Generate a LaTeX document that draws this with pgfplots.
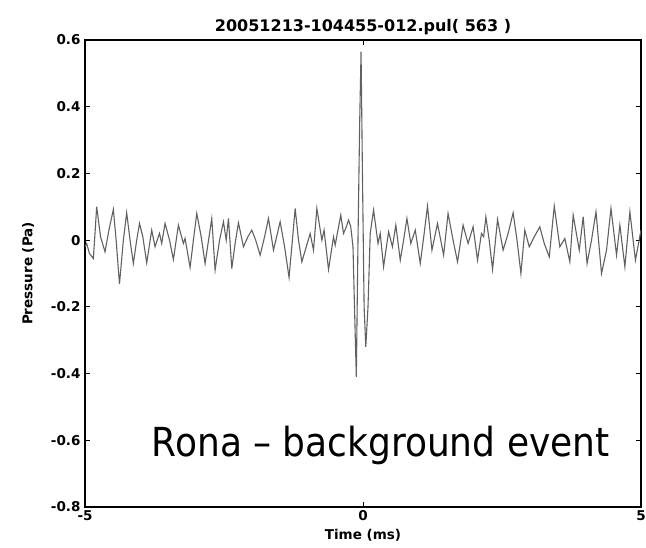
\documentclass[border=0pt]{standalone}
\usepackage{pgfplots}
\pgfplotsset{compat=1.18}
\usepackage{fontspec}
\setmainfont{DejaVu Sans}
\newfontfamily\bigfont{DejaVu Sans Condensed}
\begin{document}
\begin{tikzpicture}
\useasboundingbox (-85pt,-41pt) rectangle (561pt,507pt);
\begin{axis}[
  scale only axis,
  width=556pt, height=467pt,
  xmin=-5, xmax=5, ymin=-0.8, ymax=0.6,
  xtick={-5,0,5},
  ytick={-0.8,-0.6,-0.4,-0.2,0,0.2,0.4,0.6},
  /pgf/number format/fixed,
  /pgf/number format/assume math mode=true,
  tick align=inside,
  major tick length=5pt,
  axis line style={line width=1.4pt},
  tick style={line width=1pt, black},
  tick label style={font=\bfseries\fontsize{13.5}{15}\selectfont},
  yticklabel style={xshift=-1pt},
  xticklabel style={yshift=-3pt, inner sep=0pt},
  title={20051213-104455-012.pul( 563 )},
  title style={font=\bfseries\fontsize{16}{18}\selectfont, yshift=-4pt},
  xlabel={Time (ms)},
  ylabel={Pressure (Pa)},
  label style={font=\bfseries\fontsize{13.5}{15}\selectfont},
  xlabel style={at={(axis description cs:0.5,0)}, anchor=north, yshift=-22pt, inner sep=0pt},
  ylabel style={yshift=10pt},
]
\addplot[black!62, line width=1.1pt, sharp plot] coordinates {
(-5.00,-0.02) (-4.97,-0.01) (-4.92,-0.04) (-4.85,-0.055) (-4.82,0.02) (-4.79,0.10) (-4.72,0.01) (-4.64,-0.035)
(-4.57,0.03) (-4.49,0.092) (-4.44,0.0) (-4.38,-0.132) (-4.31,0.0) (-4.25,0.082) (-4.19,0.0) (-4.13,-0.07) (-4.07,0.0) (-4.02,0.05)
(-3.96,0.01) (-3.89,-0.068) (-3.80,0.03) (-3.74,-0.02) (-3.66,0.02) (-3.62,-0.01)
(-3.56,0.05) (-3.48,0.0) (-3.41,-0.058) (-3.32,0.045) (-3.23,-0.01) (-3.20,0.005)
(-3.11,-0.082) (-3.05,0.0) (-2.99,0.08) (-2.91,0.01) (-2.84,-0.07) (-2.72,0.065) (-2.66,-0.09)
(-2.58,0.0) (-2.51,0.055) (-2.46,0.0) (-2.42,0.065) (-2.36,-0.085) (-2.30,-0.01) (-2.24,0.052)
(-2.15,-0.02) (-2.07,0.01) (-2.00,0.03) (-1.93,0.0) (-1.85,-0.045) (-1.77,0.01) (-1.70,0.065) (-1.61,-0.03)
(-1.49,0.055) (-1.41,-0.02) (-1.33,-0.112) (-1.27,0.0) (-1.22,0.095) (-1.16,0.0) (-1.10,-0.065) (-0.95,0.02)
(-0.89,-0.03) (-0.83,0.095) (-0.74,0.0) (-0.70,0.03) (-0.62,-0.088)
(-0.53,0.01) (-0.50,-0.015) (-0.40,0.075) (-0.35,0.02) (-0.30,0.04) (-0.26,0.06)
(-0.22,0.04) (-0.18,-0.02) (-0.15,-0.22) (-0.12,-0.41) (-0.09,0.0)
(-0.06,0.35) (-0.035,0.565) (-0.01,0.2) (0.02,-0.2) (0.05,-0.32)
(0.09,-0.20) (0.13,0.02) (0.19,0.09) (0.27,-0.01) (0.31,0.02)
(0.37,-0.08) (0.46,0.025) (0.53,-0.02) (0.59,0.045) (0.67,-0.06)
(0.73,0.0) (0.79,0.065) (0.86,-0.01) (0.94,0.03) (1.03,-0.07) (1.10,0.02) (1.16,0.102)
(1.24,-0.03) (1.34,0.05) (1.45,-0.045) (1.53,0.08) (1.62,0.0) (1.70,-0.065)
(1.80,0.045) (1.89,-0.01) (1.98,0.04) (2.06,-0.06) (2.13,0.02)
(2.17,0.01) (2.21,0.07) (2.27,0.0) (2.33,-0.088) (2.42,0.062) (2.52,-0.03)
(2.61,0.02) (2.70,0.082) (2.77,0.0) (2.84,-0.10) (2.91,0.03) (2.99,-0.02)
(3.08,0.01) (3.18,0.04) (3.26,-0.01) (3.35,-0.05) (3.44,0.102)
(3.54,-0.02) (3.63,0.005) (3.72,-0.065) (3.78,0.075) (3.89,-0.03)
(3.96,0.07) (4.03,-0.07) (4.11,0.0) (4.19,0.085) (4.29,-0.10)
(4.38,-0.03) (4.46,0.095) (4.56,-0.045) (4.62,0.045) (4.71,-0.08)
(4.80,0.085) (4.90,-0.06) (5.00,0.03)
};
\node[font={\bigfont\fontsize{40}{44}\selectfont}, anchor=center] at (axis cs:0.32,-0.615) {Rona – background event};
\end{axis}
\end{tikzpicture}
\end{document}
